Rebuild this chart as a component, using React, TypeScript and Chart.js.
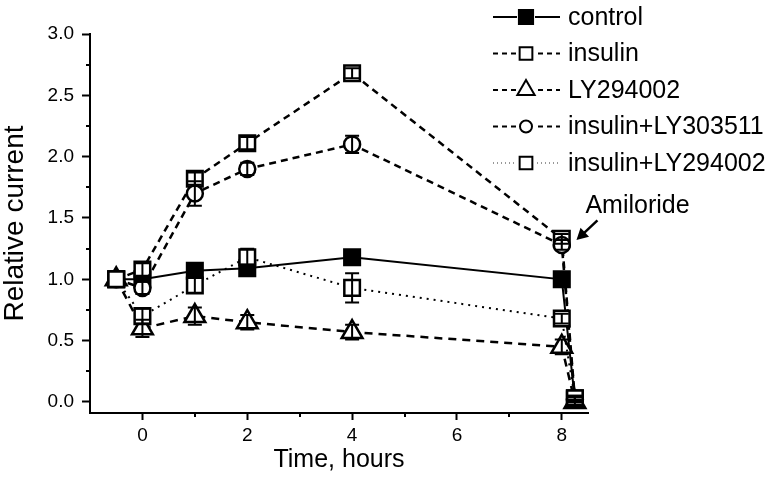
import React, { useEffect, useRef } from "react";
import { Chart, registerables } from "chart.js";

Chart.register(...registerables);

const FONT = "'Liberation Sans', Arial, sans-serif";

// Time points (hours)
const TIMES = [-0.5, 0, 1, 2, 4, 8, 8.25];

// Series values (relative current)
const CONTROL = [1.0, 1.0, 1.07, 1.09, 1.18, 1.0, 0.02];
const CONTROL_ERR = [0, 0.02, 0.04, 0.03, 0.04, 0.03, 0.02];
const INSULIN = [1.0, 1.08, 1.82, 2.11, 2.68, 1.33, 0.03];
const INSULIN_ERR = [0, 0.05, 0.05, 0.05, 0.04, 0.04, 0.02];
const LY294002 = [1.0, 0.6, 0.7, 0.65, 0.57, 0.45, 0.0];
const LY294002_ERR = [0, 0.07, 0.07, 0.06, 0.06, 0.06, 0.02];
const INS_LY303511 = [1.0, 0.93, 1.7, 1.9, 2.1, 1.28, 0.02];
const INS_LY303511_ERR = [0, 0.05, 0.1, 0.05, 0.07, 0.04, 0.02];
const INS_LY294002 = [1.0, 0.7, 0.95, 1.18, 0.93, 0.68, 0.03];
const INS_LY294002_ERR = [0, 0.06, 0.06, 0.07, 0.12, 0.04, 0.02];

// Axis ticks
const X_MAJOR = [0, 2, 4, 6, 8];
const X_MINOR = [1, 3, 5, 7];
const Y_MAJOR = [0, 0.5, 1.0, 1.5, 2.0, 2.5, 3.0];
const Y_MINOR = [0.25, 0.75, 1.25, 1.75, 2.25, 2.75];

const LABELS = ["control", "insulin", "LY294002", "insulin+LY303511", "insulin+LY294002"];

type SeriesStyle = {
  label: string;
  data: number[];
  err: number[];
  dash: number[];
  lineWidth: number;
  pointStyle: string;
  radius: number;
  fill: string;
  legendRadius: number;
  legendDash: number[];
  legendWidth: number;
  legendColor: string;
};

const SERIES: SeriesStyle[] = [
  { label: LABELS[0], data: CONTROL, err: CONTROL_ERR, dash: [], lineWidth: 2, pointStyle: "rect", radius: 11, fill: "#000", legendRadius: 10, legendDash: [], legendWidth: 2, legendColor: "#000" },
  { label: LABELS[1], data: INSULIN, err: INSULIN_ERR, dash: [7, 5], lineWidth: 2.5, pointStyle: "rect", radius: 11, fill: "#fff", legendRadius: 9, legendDash: [5, 4], legendWidth: 2, legendColor: "#000" },
  { label: LABELS[2], data: LY294002, err: LY294002_ERR, dash: [8, 6], lineWidth: 2.5, pointStyle: "triangle", radius: 12, fill: "#fff", legendRadius: 10, legendDash: [5, 4], legendWidth: 2, legendColor: "#000" },
  { label: LABELS[3], data: INS_LY303511, err: INS_LY303511_ERR, dash: [7, 5], lineWidth: 2.5, pointStyle: "circle", radius: 8, fill: "#fff", legendRadius: 6, legendDash: [5, 4], legendWidth: 2, legendColor: "#000" },
  { label: LABELS[4], data: INS_LY294002, err: INS_LY294002_ERR, dash: [2, 5], lineWidth: 2, pointStyle: "rect", radius: 11, fill: "#fff", legendRadius: 9, legendDash: [1, 3], legendWidth: 1.5, legendColor: "#777" },
];

function drawMarker(ctx: CanvasRenderingContext2D, style: string, x: number, y: number, r: number) {
  ctx.beginPath();
  if (style === "rect") {
    const s = Math.SQRT1_2 * r;
    ctx.rect(x - s, y - s, 2 * s, 2 * s);
  } else if (style === "triangle") {
    ctx.moveTo(x, y - r);
    ctx.lineTo(x + 0.866 * r, y + r / 2);
    ctx.lineTo(x - 0.866 * r, y + r / 2);
    ctx.closePath();
  } else {
    ctx.arc(x, y, r, 0, Math.PI * 2);
  }
  ctx.fill();
  ctx.stroke();
}

const extrasPlugin = {
  id: "extras",
  afterDatasetsDraw(chart: any) {
    const ctx = chart.ctx;
    const xs = chart.scales.x;
    const ys = chart.scales.y;
    ctx.save();
    ctx.strokeStyle = "#000";
    ctx.lineWidth = 2;
    ctx.setLineDash([]);
    SERIES.forEach((s) => {
      s.data.forEach((v, i) => {
        const e = s.err[i];
        if (!e) return;
        const px = xs.getPixelForValue(TIMES[i]);
        const top = ys.getPixelForValue(v + e);
        const bot = ys.getPixelForValue(v - e);
        ctx.beginPath();
        ctx.moveTo(px, top);
        ctx.lineTo(px, bot);
        ctx.moveTo(px - 7, top);
        ctx.lineTo(px + 7, top);
        ctx.moveTo(px - 7, bot);
        ctx.lineTo(px + 7, bot);
        ctx.stroke();
      });
    });
    ctx.restore();
  },
  afterDraw(chart: any) {
    const ctx = chart.ctx;
    const xs = chart.scales.x;
    const ys = chart.scales.y;
    const area = chart.chartArea;
    ctx.save();
    // minor ticks
    ctx.strokeStyle = "#000";
    ctx.lineWidth = 2;
    ctx.beginPath();
    Y_MINOR.forEach((v) => {
      const py = Math.round(ys.getPixelForValue(v));
      ctx.moveTo(area.left - 4, py);
      ctx.lineTo(area.left, py);
    });
    X_MINOR.forEach((v) => {
      const px = Math.round(xs.getPixelForValue(v));
      ctx.moveTo(px, area.bottom);
      ctx.lineTo(px, area.bottom + 4);
    });
    ctx.stroke();

    // legend
    const lx0 = 493;
    const lx1 = 560;
    const mx = 526;
    const tx = 568;
    SERIES.forEach((s, i) => {
      const y = 17 + i * 36.5;
      ctx.save();
      ctx.strokeStyle = s.legendColor;
      ctx.lineWidth = s.legendWidth;
      ctx.setLineDash(s.legendDash);
      ctx.beginPath();
      ctx.moveTo(lx0, y);
      ctx.lineTo(lx1, y);
      ctx.stroke();
      ctx.setLineDash([]);
      ctx.fillStyle = "#fff";
      ctx.fillRect(mx - 9, y - 9, 18, 18);
      ctx.restore();
      ctx.save();
      ctx.fillStyle = s.fill;
      ctx.strokeStyle = "#000";
      ctx.lineWidth = 2;
      drawMarker(ctx, s.pointStyle, mx, y, s.legendRadius);
      ctx.restore();
      ctx.fillStyle = "#000";
      ctx.font = `25px ${FONT}`;
      ctx.textBaseline = "middle";
      ctx.textAlign = "left";
      ctx.fillText(s.label, tx, y + 1);
    });

    // Amiloride annotation
    ctx.fillStyle = "#000";
    ctx.font = `25px ${FONT}`;
    ctx.textBaseline = "alphabetic";
    ctx.textAlign = "left";
    ctx.fillText("Amiloride", xs.getPixelForValue(8.45), ys.getPixelForValue(1.54));
    const tailX = xs.getPixelForValue(8.68);
    const tailY = ys.getPixelForValue(1.48);
    const tipX = xs.getPixelForValue(8.28);
    const tipY = ys.getPixelForValue(1.32);
    const ang = Math.atan2(tipY - tailY, tipX - tailX);
    ctx.strokeStyle = "#000";
    ctx.lineWidth = 2.5;
    ctx.beginPath();
    ctx.moveTo(tailX, tailY);
    ctx.lineTo(tipX - Math.cos(ang) * 8, tipY - Math.sin(ang) * 8);
    ctx.stroke();
    ctx.beginPath();
    ctx.moveTo(tipX, tipY);
    ctx.lineTo(tipX - Math.cos(ang - 0.5) * 13, tipY - Math.sin(ang - 0.5) * 13);
    ctx.lineTo(tipX - Math.cos(ang + 0.5) * 13, tipY - Math.sin(ang + 0.5) * 13);
    ctx.closePath();
    ctx.fill();
    ctx.restore();
  },
};

export default function App() {
  const ref = useRef<HTMLCanvasElement | null>(null);

  useEffect(() => {
    if (!ref.current) return;
    const chart = new Chart(ref.current, {
      type: "line",
      data: {
        datasets: SERIES.map((s, idx) => ({
          label: s.label,
          data: TIMES.map((t, i) => ({ x: t, y: s.data[i] })),
          order: SERIES.length - idx,
          borderColor: "#000",
          borderWidth: s.lineWidth,
          borderDash: s.dash,
          pointStyle: s.pointStyle as any,
          pointRadius: s.radius,
          pointHoverRadius: s.radius,
          pointBackgroundColor: s.fill,
          pointBorderColor: "#000",
          pointBorderWidth: 2.5,
          tension: 0,
          fill: false,
          clip: false as any,
        })),
      },
      options: {
        animation: false,
        responsive: true,
        maintainAspectRatio: false,
        events: [],
        layout: { padding: { left: 0, top: 34, right: 185, bottom: 0 } },
        plugins: {
          legend: { display: false },
          tooltip: { enabled: false },
        },
        scales: {
          x: {
            type: "linear",
            min: -1,
            max: 8.5,
            afterBuildTicks: (axis: any) => {
              axis.ticks = X_MAJOR.map((v) => ({ value: v }));
            },
            afterFit: (axis: any) => {
              axis.height = 77;
            },
            grid: {
              drawOnChartArea: false,
              drawTicks: true,
              tickLength: 7,
              tickColor: "#000",
              tickWidth: 2,
            },
            border: { display: true, color: "#000", width: 2 },
            ticks: {
              color: "#000",
              font: { family: FONT, size: 19 },
              padding: 4,
              maxRotation: 0,
              callback: (v: any) => String(v),
            },
            title: {
              display: true,
              text: "Time, hours",
              color: "#000",
              font: { family: FONT, size: 25, lineHeight: 1.2 },
              padding: { top: 0, bottom: 15 },
            },
          },
          y: {
            type: "linear",
            min: -0.09,
            max: 3.0,
            afterBuildTicks: (axis: any) => {
              axis.ticks = Y_MAJOR.map((v) => ({ value: v }));
            },
            afterFit: (axis: any) => {
              axis.width = 90;
            },
            grid: {
              drawOnChartArea: false,
              drawTicks: true,
              tickLength: 8,
              tickColor: "#000",
              tickWidth: 2,
            },
            border: { display: true, color: "#000", width: 2 },
            ticks: {
              color: "#000",
              font: { family: FONT, size: 19 },
              padding: 8,
              callback: (v: any) => Number(v).toFixed(1),
            },
            title: {
              display: true,
              text: "Relative current",
              color: "#000",
              font: { family: FONT, size: 28, lineHeight: 1 },
              padding: { top: 1, bottom: 0 },
            },
          },
        },
      },
      plugins: [extrasPlugin],
    } as any);
    return () => chart.destroy();
  }, []);

  return (
    <div style={{ position: "fixed", left: 0, top: 0, width: 773, height: 490, background: "#fff" }}>
      <canvas ref={ref} />
    </div>
  );
}
